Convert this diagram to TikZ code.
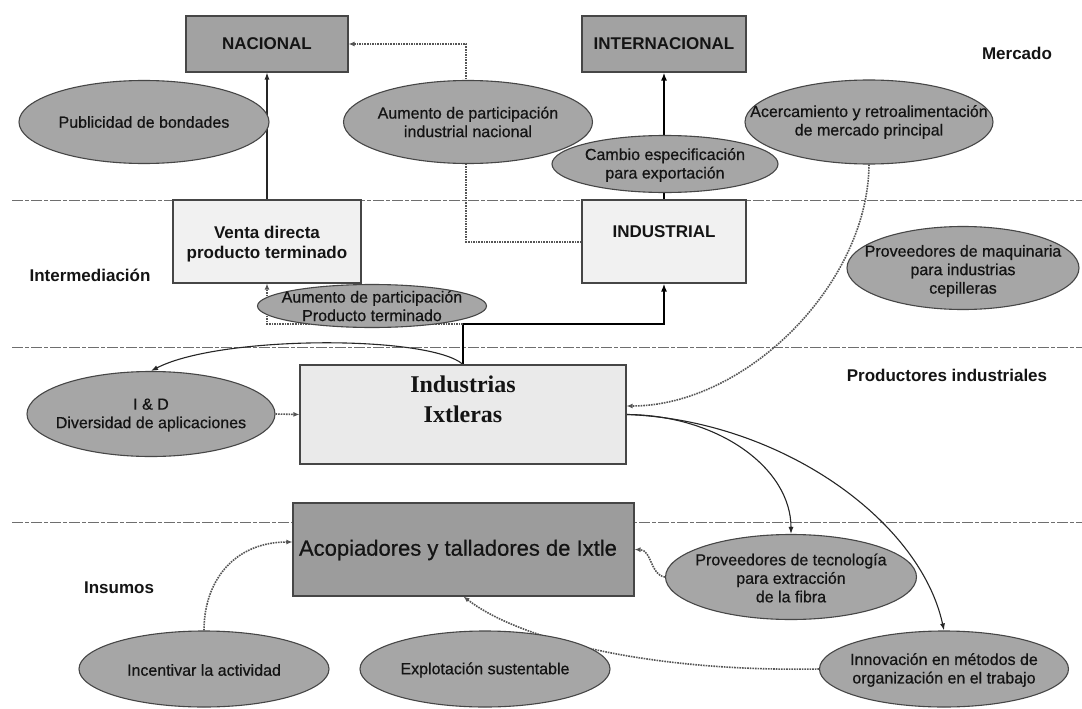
\documentclass[tikz,border=0pt]{standalone}
\usepackage{fontspec}
\setmainfont{Liberation Sans}
\newfontfamily\serifbold{Liberation Serif}
\newfontfamily\heavysans[FakeBold=0.6]{Liberation Sans}
\usetikzlibrary{shapes.geometric,arrows.meta}
\pgfdeclarelayer{bg}
\pgfdeclarelayer{paper}
\pgfsetlayers{paper,bg,main}
\definecolor{ovalc}{RGB}{166,166,166}
\definecolor{boxc}{RGB}{162,162,162}
\definecolor{acoc}{RGB}{156,156,156}
\definecolor{lightc}{RGB}{241,241,241}
\definecolor{indc}{RGB}{234,234,234}
\definecolor{edgec}{RGB}{70,70,70}
\definecolor{txtc}{RGB}{20,20,20}
\definecolor{dotc}{RGB}{85,85,85}
\definecolor{sepc}{RGB}{110,110,110}
\tikzset{
  oval/.style={ellipse, draw=edgec, fill=ovalc, line width=1.1pt, inner sep=0pt},
  otext/.style={font=\heavysans\fontsize{16}{18.5}\selectfont, align=center, text=txtc, inner sep=0pt},
  darkbox/.style={rectangle, draw=edgec, fill=boxc, line width=1.1pt, inner sep=0pt},
  lightbox/.style={rectangle, draw=edgec, fill=lightc, line width=1.1pt, inner sep=0pt},
  btext/.style={font=\bfseries\fontsize{17}{20}\selectfont, align=center, text=txtc, inner sep=0pt},
  lbl/.style={font=\bfseries\fontsize{17}{20}\selectfont, text=txtc, inner sep=0pt},
  solidarrow/.style={-{Latex[length=7pt,width=5pt]}, line width=1.1pt, draw=black!85},
  thickarrow/.style={-{Latex[length=8pt,width=6pt]}, line width=2.6pt, draw=black},
  dotarrow/.style={-{Latex[length=6pt,width=5pt]}, densely dotted, line width=1.6pt, draw=dotc},
  sepline/.style={draw=sepc, line width=1pt, dash pattern=on 11pt off 2pt on 4pt off 2pt}
}
\begin{document}
\begin{tikzpicture}[x=1pt,y=-1pt]
\useasboundingbox (0,0) rectangle (1082,709);
\begin{pgfonlayer}{paper}
\fill[white] (0,0) rectangle (1082,709);
\end{pgfonlayer}

% boxes
\node[darkbox, minimum width=162pt, minimum height=56pt] (nac) at (267,44) {};
\node[btext] (nact) at (267,44) {NACIONAL};
\node[darkbox, minimum width=164pt, minimum height=56pt] (inter) at (664,44) {};
\node[btext] (intert) at (664,44) {INTERNACIONAL};
\node[lightbox, minimum width=188pt, minimum height=83pt] (venta) at (267,241.5) {};
\node[btext] (ventat) at (267,244) {Venta directa\\producto terminado};
\node[lightbox, minimum width=164pt, minimum height=83pt] (indus) at (664,241.5) {};
\node[btext] (indust) at (664,232) {INDUSTRIAL};
\node[rectangle, draw=edgec, fill=indc, line width=1.1pt, minimum width=326pt, minimum height=99pt] (ind) at (463,414.5) {};
\node[font=\serifbold\bfseries\fontsize{24}{30}\selectfont, align=center, text=txtc, inner sep=0pt] (indt) at (463,399) {Industrias\\Ixtleras};
\node[rectangle, draw=edgec, fill=acoc, line width=1.1pt, minimum width=341pt, minimum height=93pt] (aco) at (463.5,549.5) {};
\node[font=\heavysans\fontsize{22}{24}\selectfont, text=txtc, inner sep=0pt] (acot) at (458,550) {Acopiadores y talladores de Ixtle};

% ellipses
\node[oval, minimum width=250pt, minimum height=83pt] (pub) at (144,122) {};
\node[otext] (pubt) at (144,122) {Publicidad de bondades};
\node[oval, minimum width=249pt, minimum height=83pt] (aum) at (468,122) {};
\node[otext] (aumt) at (468,122) {Aumento de participación\\industrial nacional};
\node[oval, minimum width=226pt, minimum height=57pt] (cam) at (665,164) {};
\node[otext] (camt) at (665,165) {Cambio especificación\\para exportación};
\node[oval, minimum width=248pt, minimum height=84pt] (acer) at (869,122) {};
\node[otext] (acert) at (869,122) {Acercamiento y retroalimentación\\de mercado principal};
\node[oval, minimum width=232pt, minimum height=83pt] (maq) at (963,268) {};
\node[otext] (maqt) at (963,271) {Proveedores de maquinaria\\para industrias\\cepilleras};
\node[oval, minimum width=229pt, minimum height=43pt] (apt) at (372,306) {};
\node[otext] (aptt) at (372,306) {Aumento de participación\\Producto terminado};
\node[oval, minimum width=248pt, minimum height=85pt] (id) at (151,414) {};
\node[otext] (idt) at (151,415) {I \& D\\Diversidad de aplicaciones};
\node[oval, minimum width=251pt, minimum height=85pt] (ptec) at (791,577) {};
\node[otext] (ptect) at (791,578) {Proveedores de tecnología\\para extracción\\de la fibra};
\node[oval, minimum width=250pt, minimum height=76pt] (inc) at (204,669) {};
\node[otext] (inct) at (204,670) {Incentivar la actividad};
\node[oval, minimum width=250pt, minimum height=76pt] (exp) at (485,669) {};
\node[otext] (expt) at (485,670) {Explotación sustentable};
\node[oval, minimum width=249pt, minimum height=76pt] (innov) at (944,669) {};
\node[otext] (innovt) at (944,670) {Innovación en métodos de\\organización en el trabajo};

% level labels
\node[lbl] (lmer) at (1017,53) {Mercado};
\node[lbl] (lint) at (90,275) {Intermediación};
\node[lbl] (lpro) at (947,375) {Productores industriales};
\node[lbl] (lins) at (119,588) {Insumos};

\coordinate (j) at (463,324);
\coordinate (d1) at (466,242);
\coordinate (d2) at (466,44);
\coordinate (d3) at (267,324);
\coordinate (s1a) at (12,200);  \coordinate (s1b) at (1082,200);
\coordinate (s2a) at (12,347);  \coordinate (s2b) at (1082,347);
\coordinate (s3a) at (12,522);  \coordinate (s3b) at (1082,522);

\begin{pgfonlayer}{bg}
\draw[sepline] (s1a) -- (s1b);
\draw[sepline] (s2a) -- (s2b);
\draw[sepline] (s3a) -- (s3b);

\draw[solidarrow] (venta.north) -- (nac.south);
\draw[thickarrow] (indus.north) -- (inter.south);
\draw[thickarrow] (ind.north) -- (j) -| (indus.south);
\draw[dotarrow] (indus.west |- d1) -- (d1) -- (d2) -- (nac.east);
\draw[dotarrow] (j) -- (d3) -- (venta.south);
\draw[solidarrow] (ind.north) .. controls (430,335) and (220,335) .. (id.north);
\draw[dotarrow] (id.east) -- (ind.west);
\draw[dotarrow] (acer.south) .. controls (868,285) and (745,406) .. ([yshift=8.5pt]ind.east);
\draw[solidarrow] (ind.east) .. controls (718,415) and (791,468) .. (ptec.north);
\draw[solidarrow] (ind.east) .. controls (780,420) and (920,520) .. (innov.north);
\draw[dotarrow] (ptec.west) .. controls (650,575) and (652,550) .. (aco.east);
\draw[dotarrow] (inc.north) .. controls (204,580) and (235,542) .. ([yshift=7.5pt]aco.west);
\draw[dotarrow] (innov.west) .. controls (650,672) and (520,640) .. (aco.south);
\end{pgfonlayer}
\end{tikzpicture}
\end{document}
